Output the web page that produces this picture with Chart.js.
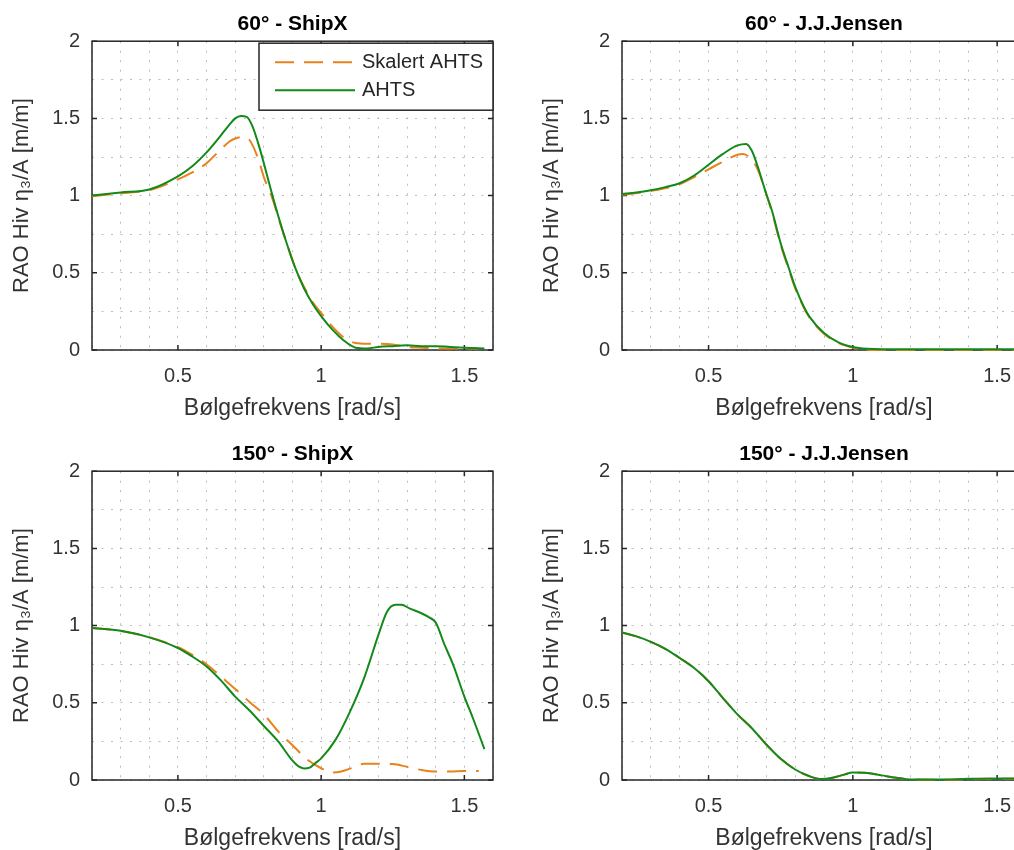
<!DOCTYPE html>
<html>
<head>
<meta charset="utf-8">
<script src="https://cdn.jsdelivr.net/npm/chart.js@4.4.0/dist/chart.umd.min.js"></script>
<style>
  html, body { margin: 0; padding: 0; background: #fff; overflow: hidden; width: 1014px; height: 850px; }
  canvas { position: absolute; }
</style>
</head>
<body>
<canvas id="c60ship" width="507" height="425" style="left:0;top:0"></canvas>
<canvas id="c60jens" width="510" height="425" style="left:530px;top:0"></canvas>
<canvas id="c150ship" width="507" height="425" style="left:0;top:430px"></canvas>
<canvas id="c150jens" width="510" height="425" style="left:530px;top:430px"></canvas>
<script>
// Akser / tick-etiketter
const xMajorTicks = [0.5, 1, 1.5];
const yMajorTicks = [0, 0.5, 1, 1.5, 2];

// 60 grader - ShipX
const xAhts60Ship = [0.2,0.3,0.4,0.5,0.55,0.6,0.65,0.68,0.7,0.72,0.74,0.76,0.78,0.8,0.83,0.85,0.88,0.91,0.94,0.97,1.0,1.04,1.08,1.12,1.16,1.2,1.25,1.3,1.35,1.4,1.45,1.5,1.57];
const ahts60Ship  = [1.00,1.02,1.04,1.125,1.19,1.28,1.39,1.46,1.50,1.515,1.51,1.45,1.34,1.21,1.00,0.87,0.69,0.53,0.40,0.30,0.22,0.13,0.06,0.015,0.01,0.02,0.025,0.03,0.025,0.025,0.02,0.015,0.01];
const xSkal60Ship = [0.2,0.3,0.4,0.5,0.55,0.6,0.65,0.68,0.7,0.73,0.75,0.78,0.8,0.83,0.85,0.88,0.91,0.94,0.97,1.0,1.04,1.08,1.12,1.16,1.2,1.25,1.3,1.35,1.4,1.45,1.5,1.55];
const skal60Ship  = [0.995,1.015,1.035,1.105,1.15,1.21,1.30,1.35,1.37,1.38,1.36,1.24,1.12,0.98,0.86,0.69,0.53,0.41,0.31,0.24,0.15,0.08,0.045,0.04,0.04,0.035,0.02,0.015,0.01,0.01,0.01,0.01];

// 60 grader - J.J.Jensen
const xAhts60Jens = [0.2,0.25,0.3,0.35,0.4,0.45,0.5,0.55,0.6,0.63,0.65,0.67,0.69,0.7,0.72,0.75,0.78,0.8,0.83,0.85,0.9,0.95,1.0,1.05,1.1,1.2,1.3,1.4,1.5,1.6];
const ahts60Jens  = [1.01,1.02,1.035,1.055,1.08,1.13,1.20,1.27,1.325,1.335,1.29,1.19,1.07,1.01,0.90,0.69,0.52,0.41,0.28,0.215,0.11,0.05,0.02,0.008,0.005,0.005,0.005,0.005,0.005,0.005];
const xSkal60Jens = [0.2,0.3,0.4,0.45,0.5,0.55,0.6,0.62,0.65,0.67,0.69,0.7,0.72,0.75,0.78,0.8,0.83,0.85,0.9,0.95,1.0,1.05,1.1,1.2,1.3,1.4,1.5,1.6];
const skal60Jens  = [1.005,1.03,1.075,1.12,1.17,1.22,1.265,1.27,1.23,1.17,1.07,1.01,0.89,0.68,0.51,0.40,0.275,0.21,0.105,0.045,0.015,0.002,0,0,0,0,0,0];

// 150 grader - ShipX
const xAhts150Ship = [0.2,0.3,0.4,0.5,0.55,0.6,0.65,0.7,0.75,0.8,0.85,0.9,0.92,0.94,0.96,0.98,1.0,1.05,1.1,1.15,1.2,1.23,1.26,1.28,1.31,1.35,1.38,1.4,1.43,1.46,1.5,1.53,1.57];
const ahts150Ship  = [0.985,0.967,0.924,0.855,0.80,0.735,0.645,0.54,0.45,0.35,0.25,0.125,0.09,0.075,0.08,0.11,0.14,0.26,0.44,0.66,0.94,1.09,1.135,1.135,1.11,1.08,1.05,1.02,0.88,0.75,0.54,0.40,0.20];
const xSkal150Ship = [0.2,0.3,0.4,0.5,0.55,0.6,0.65,0.7,0.75,0.8,0.85,0.9,0.95,1.0,1.04,1.07,1.11,1.15,1.2,1.25,1.3,1.35,1.4,1.45,1.5,1.55];
const skal150Ship  = [0.985,0.965,0.925,0.86,0.81,0.75,0.67,0.59,0.505,0.425,0.315,0.225,0.135,0.076,0.048,0.055,0.079,0.105,0.105,0.103,0.085,0.065,0.055,0.055,0.058,0.058];

// 150 grader - J.J.Jensen
const x150Jens    = [0.2,0.25,0.3,0.35,0.4,0.45,0.5,0.55,0.6,0.65,0.7,0.75,0.8,0.85,0.89,0.93,0.97,1.0,1.05,1.1,1.15,1.2,1.3,1.4,1.5,1.6];
const ahts150Jens = [0.955,0.93,0.895,0.85,0.79,0.725,0.64,0.53,0.425,0.335,0.23,0.137,0.068,0.024,0.006,0.015,0.035,0.048,0.045,0.03,0.015,0.003,0.003,0.008,0.01,0.01];
const skal150Jens = [0.955,0.93,0.895,0.85,0.79,0.725,0.64,0.53,0.425,0.335,0.23,0.137,0.068,0.024,0.006,0.015,0.035,0.048,0.045,0.03,0.015,0.003,0.002,0.005,0.008,0.008];

const FONT = '"Liberation Sans", Arial, Helvetica, sans-serif';
const ORANGE = '#e8821c';
const GREEN = '#13891a';
const AXIS = '#262626';

const pts = (xs, ys) => xs.map((x, i) => ({ x: x, y: ys[i] }));
const isMajor = (v, list) => list.some(t => Math.abs(t - v) < 1e-6);

// Boks rundt aksene + innovervendte tick-merker (som MATLAB)
const axesBox = {
    id: 'axesBox',
    beforeDatasetsDraw(chart) {
        const { ctx, chartArea: a, scales } = chart;
        ctx.save();
        ctx.strokeStyle = AXIS;
        ctx.lineWidth = 1.5;
        ctx.strokeRect(a.left, a.top, a.right - a.left, a.bottom - a.top);
        ctx.beginPath();
        xMajorTicks.forEach(v => {
            const px = scales.x.getPixelForValue(v);
            ctx.moveTo(px, a.bottom); ctx.lineTo(px, a.bottom - 5);
            ctx.moveTo(px, a.top); ctx.lineTo(px, a.top + 5);
        });
        yMajorTicks.forEach(v => {
            const py = scales.y.getPixelForValue(v);
            ctx.moveTo(a.left, py); ctx.lineTo(a.left + 5, py);
            ctx.moveTo(a.right, py); ctx.lineTo(a.right - 5, py);
        });
        ctx.stroke();
        ctx.restore();
    }
};

// Legende med ramme, øverst til høyre i plottet
const boxLegend = {
    id: 'boxLegend',
    afterDraw(chart, args, opts) {
        if (!opts.display) return;
        const { ctx, chartArea: a } = chart;
        const w = 234, h = 67;
        const left = a.right - w, top = a.top + 2;
        ctx.save();
        ctx.fillStyle = '#fff';
        ctx.fillRect(left, top, w, h);
        ctx.strokeStyle = AXIS;
        ctx.lineWidth = 1.5;
        ctx.strokeRect(left, top, w, h);
        ctx.font = '20px ' + FONT;
        ctx.textBaseline = 'middle';
        chart.data.datasets.forEach((ds, i) => {
            const yy = top + 19 + i * 28;
            ctx.strokeStyle = ds.borderColor;
            ctx.lineWidth = ds.borderWidth;
            ctx.setLineDash(ds.borderDash || []);
            ctx.beginPath();
            ctx.moveTo(left + 16, yy);
            ctx.lineTo(left + 96, yy);
            ctx.stroke();
            ctx.setLineDash([]);
            ctx.fillStyle = AXIS;
            ctx.fillText(ds.label, left + 103, yy);
        });
        ctx.restore();
    }
};

function makeChart(id, title, xsSkal, ysSkal, xsAhts, ysAhts, withLegend) {
    const ctx = document.getElementById(id).getContext('2d');
    return new Chart(ctx, {
        type: 'line',
        data: {
            datasets: [{
                label: 'Skalert AHTS',
                data: pts(xsSkal, ysSkal),
                borderColor: ORANGE,
                borderWidth: 2,
                borderDash: [19, 10],
                order: 1
            }, {
                label: 'AHTS',
                data: pts(xsAhts, ysAhts),
                borderColor: GREEN,
                borderWidth: 2,
                order: 0
            }]
        },
        options: {
            responsive: false,
            animation: false,
            devicePixelRatio: 1,
            layout: { padding: { left: 0, right: 14, top: 0, bottom: 0 } },
            elements: {
                point: { radius: 0 },
                line: { cubicInterpolationMode: 'monotone', fill: false }
            },
            datasets: { line: { clip: 6 } },
            plugins: {
                legend: { display: false },
                tooltip: { enabled: false },
                title: {
                    display: true,
                    text: title,
                    fullSize: false,
                    color: '#000',
                    font: { family: FONT, size: 21, weight: 'bold', lineHeight: 1.2 },
                    padding: { top: 12, bottom: 4 }
                },
                boxLegend: { display: withLegend }
            },
            scales: {
                x: {
                    type: 'linear',
                    min: 0.2,
                    max: 1.6,
                    afterFit: s => { s.height = 75; },
                    ticks: {
                        stepSize: 0.1,
                        autoSkip: false,
                        maxRotation: 0,
                        padding: 14,
                        color: '#333',
                        font: { family: FONT, size: 20 },
                        callback: v => isMajor(v, xMajorTicks) ? String(Math.round(v * 10) / 10) : ''
                    },
                    grid: { color: '#bdbdbd', lineWidth: 1, drawTicks: false },
                    border: { display: false, dash: [2, 7.5] },
                    title: {
                        display: true,
                        text: 'Bølgefrekvens [rad/s]',
                        color: '#333',
                        font: { family: FONT, size: 23, lineHeight: 1.2 },
                        padding: { top: 0, bottom: 3 }
                    }
                },
                y: {
                    type: 'linear',
                    min: 0,
                    max: 2,
                    afterFit: s => { s.width = 92; },
                    ticks: {
                        stepSize: 0.25,
                        autoSkip: false,
                        padding: 12,
                        color: '#333',
                        font: { family: FONT, size: 20 },
                        callback: v => isMajor(v, yMajorTicks) ? String(v) : ''
                    },
                    grid: { color: '#bdbdbd', lineWidth: 1, drawTicks: false },
                    border: { display: false, dash: [2, 7.5] },
                    title: {
                        display: true,
                        text: 'RAO Hiv η₃/A [m/m]',
                        color: '#333',
                        font: { family: FONT, size: 22, lineHeight: 1.2 },
                        padding: { top: 9, bottom: 0 }
                    }
                }
            }
        },
        plugins: [axesBox, boxLegend]
    });
}

makeChart('c60ship', '60° - ShipX', xSkal60Ship, skal60Ship, xAhts60Ship, ahts60Ship, true);
makeChart('c60jens', '60° - J.J.Jensen', xSkal60Jens, skal60Jens, xAhts60Jens, ahts60Jens, false);
makeChart('c150ship', '150° - ShipX', xSkal150Ship, skal150Ship, xAhts150Ship, ahts150Ship, false);
makeChart('c150jens', '150° - J.J.Jensen', x150Jens, skal150Jens, x150Jens, ahts150Jens, false);
</script>
</body>
</html>
